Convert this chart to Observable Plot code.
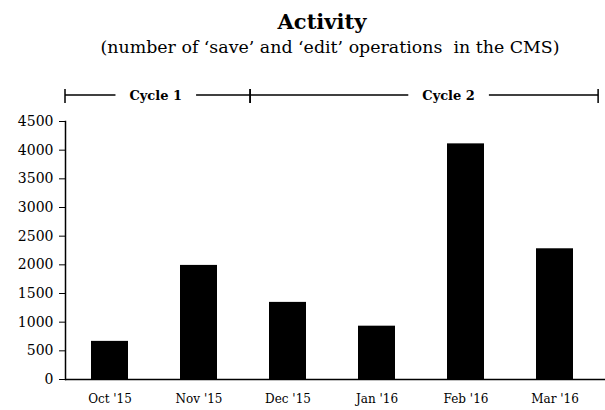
<!DOCTYPE html>
<html>
<head>
<meta charset="utf-8">
<script src="https://cdn.jsdelivr.net/npm/d3@7"></script>
<script src="https://cdn.jsdelivr.net/npm/@observablehq/plot@0.6"></script>
<style>
  html, body { margin: 0; padding: 0; background: #fff; }
  body { width: 605px; height: 410px; overflow: hidden; font-family: Georgia, "DejaVu Serif", serif; }
  #header { display: block; }
  #chart svg { display: block; }
</style>
</head>
<body>
<svg id="header" width="605" height="65"></svg>
<div id="chart"></div>
<script>
// ---- data ----
const months = ["Oct '15", "Nov '15", "Dec '15", "Jan '16", "Feb '16", "Mar '16"];
const operations = [665, 1990, 1345, 930, 4110, 2280];
const yTicks = [0, 500, 1000, 1500, 2000, 2500, 3000, 3500, 4000, 4500];
const titleText = "Activity";
const subtitleText = "(number of \u2018save\u2019 and \u2018edit\u2019 operations  in the CMS)";
// cycle spans, in month units along the x axis (0 = left edge of Oct '15)
const cycleNames = ["Cycle 1", "Cycle 2"];
const cycleStart = [0, 2.08];
const cycleEnd = [2.08, 5.99];
const cycleLabelAt = [1.02, 4.31];

const data = months.map((m, i) => ({month: m, value: operations[i]}));

const font = 'Georgia, "DejaVu Serif", serif';

// ---- header ----
const header = d3.select("#header");
header.append("text")
  .attr("x", 322).attr("y", 29)
  .attr("text-anchor", "middle")
  .attr("font-family", font).attr("font-weight", "bold").attr("font-size", 21)
  .attr("fill", "#000")
  .text(titleText);
header.append("text")
  .attr("x", 330).attr("y", 53)
  .attr("text-anchor", "middle")
  .attr("font-family", font).attr("font-size", 17.4)
  .attr("fill", "#000")
  .style("white-space", "pre")
  .attr("xml:space", "preserve")
  .text(subtitleText);

// ---- chart ----
const plot = Plot.plot({
  width: 605,
  height: 345,
  marginTop: 56,
  marginBottom: 31,
  marginLeft: 65,
  marginRight: 0,
  style: {fontFamily: font, fontSize: "12px", color: "#000", background: "#fff"},
  x: {
    domain: months,
    range: [65, 599],
    paddingInner: 0.584,
    paddingOuter: 0.292,
    align: 0.5
  },
  y: {
    domain: [0, 4500]
  },
  marks: [
    Plot.axisX({tickSize: 0, tickPadding: 15, fontSize: 12, label: null}),
    Plot.axisY({ticks: yTicks, tickSize: 6, tickPadding: 6, fontSize: 14, tickFormat: d => String(d), label: null}),
    Plot.frame({anchor: "left", stroke: "#000", strokeWidth: 1.5}),
    Plot.barY(data, {x: "month", y: "value", fill: "#000"}),
    Plot.ruleY([0], {stroke: "#000", strokeWidth: 1.5})
  ]
});
document.getElementById("chart").appendChild(plot);

// ---- cycle annotations (positioned through the plot's x scale) ----
const xs = plot.scale("x");
const x0 = xs.range[0];
const step = xs.step;
const ux = u => x0 + u * step;
const annY = 30;
const svg = d3.select(plot);
const g = svg.append("g").attr("stroke", "#000").attr("stroke-width", 1.5);
cycleNames.forEach((name, i) => {
  const a = ux(cycleStart[i]), b = ux(cycleEnd[i]), c = ux(cycleLabelAt[i]);
  const t = svg.append("text")
    .attr("x", c).attr("y", annY).attr("dy", "0.35em")
    .attr("text-anchor", "middle")
    .attr("font-family", font).attr("font-weight", "bold").attr("font-size", 13)
    .attr("fill", "#000")
    .text(name);
  const w = t.node().getComputedTextLength();
  const gap = 14;
  g.append("line").attr("x1", a).attr("x2", c - w / 2 - gap).attr("y1", annY).attr("y2", annY);
  g.append("line").attr("x1", c + w / 2 + gap).attr("x2", b).attr("y1", annY).attr("y2", annY);
  g.append("line").attr("x1", a).attr("x2", a).attr("y1", annY - 6).attr("y2", annY + 8);
  g.append("line").attr("x1", b).attr("x2", b).attr("y1", annY - 6).attr("y2", annY + 8);
});
</script>
</body>
</html>
